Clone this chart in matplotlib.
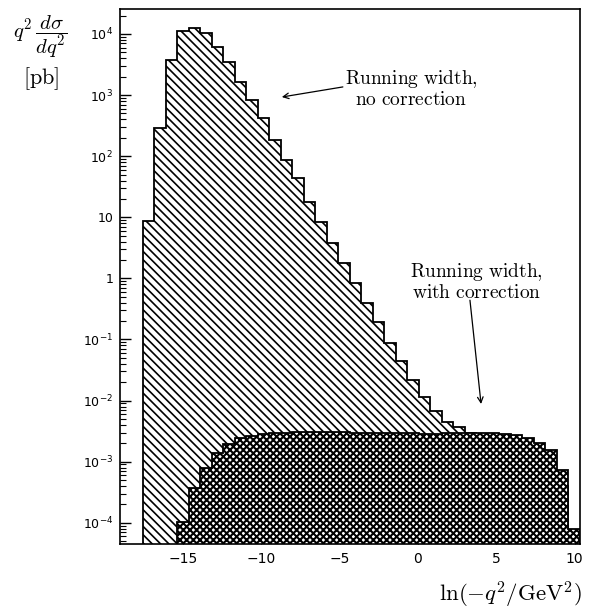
import numpy as np
import matplotlib
matplotlib.use("Agg")
import matplotlib.pyplot as plt
from matplotlib.ticker import FixedLocator, FuncFormatter, LogLocator, NullFormatter

# 40 bins in ln(-q^2/GeV^2)
x_lo, x_hi, n_bins = -19.04, 10.35, 40

# running width, no correction [pb]
no_corr = [0, 0, 8.8, 290, 3760, 11300, 12400, 10200, 6200, 3500,
           1660, 830, 420, 184, 87, 44, 18.0, 8.5, 3.8, 1.77,
           0.83, 0.40, 0.19, 0.087, 0.044, 0.0217, 0.0113, 0.0068, 0.0044, 0.00366,
           0.0029, 0.0025, 0.0022, 0.0019, 0.0016, 0.0013, 0.001, 0.0006, 0.0004, 0.00006]

# running width, with correction [pb]
with_corr = [0, 0, 0, 0, 0, 1.05e-4, 3.67e-4, 7.8e-4, 1.37e-3, 1.95e-3,
             2.42e-3, 2.63e-3, 2.84e-3, 2.95e-3, 3.0e-3, 3.05e-3, 3.05e-3, 3.1e-3, 3.1e-3, 3.05e-3,
             3.0e-3, 2.95e-3, 2.9e-3, 2.9e-3, 2.9e-3, 2.9e-3, 2.85e-3, 2.85e-3, 2.9e-3, 2.95e-3,
             3.0e-3, 2.95e-3, 2.9e-3, 2.8e-3, 2.7e-3, 2.45e-3, 2.05e-3, 1.55e-3, 7.3e-4, 8e-5]

x_ticks = [-15, -10, -5, 0, 5, 10]
y_ticks = [1e-4, 1e-3, 1e-2, 1e-1, 1, 10, 1e2, 1e3, 1e4]

plt.rcParams['hatch.linewidth'] = 1.2

edges = np.linspace(x_lo, x_hi, n_bins + 1)
base = 1e-7


def trim(vals):
    v = np.array(vals, dtype=float)
    i = int(np.argmax(v > 0))
    return v[i:], edges[i:]


fig = plt.figure(figsize=(5.92, 6.12), dpi=100)
ax = fig.add_axes([0.2027, 0.1111, 0.7770, 0.8742])
ax.set_yscale('log')

v1, e1 = trim(no_corr)
p1 = ax.stairs(v1, e1, baseline=base, fill=True, facecolor='white',
               edgecolor='black', hatch='\\' * 4, linewidth=1.3, zorder=1)

v2, e2 = trim(with_corr)
p2 = ax.stairs(v2, e2, baseline=base, fill=True, facecolor='white',
               edgecolor='black', hatch='x' * 5, linewidth=1.3, zorder=2)
if hasattr(p2, 'set_hatch_linewidth'):
    p1.set_hatch_linewidth(1.2)
    p2.set_hatch_linewidth(1.5)

ax.set_xlim(x_lo, x_hi)
ax.set_ylim(10 ** -4.347, 10 ** 4.409)

ax.xaxis.set_major_locator(FixedLocator(x_ticks))
ax.xaxis.set_major_formatter(FuncFormatter(lambda v, p: f"{int(v)}".replace('-', '\u2212')))
ax.yaxis.set_major_locator(FixedLocator(y_ticks))


def ylab(v, p):
    e = int(round(np.log10(v)))
    if e == 0:
        return "1"
    if e == 1:
        return "10"
    return r"$10^{%d}$" % e


ax.yaxis.set_major_formatter(FuncFormatter(ylab))
ax.yaxis.set_minor_locator(LogLocator(base=10, subs=np.arange(2, 10), numticks=20))
ax.yaxis.set_minor_formatter(NullFormatter())
ax.tick_params(axis='y', which='major', direction='in', length=8, width=1.0, labelsize=9, pad=5)
ax.tick_params(axis='y', which='minor', direction='in', length=4, width=0.8)
ax.tick_params(axis='x', which='major', direction='in', length=4, labelsize=10, pad=6)
for lab in ax.get_yticklabels() + ax.get_xticklabels():
    lab.set_math_fontfamily('dejavusans')
for s in ax.spines.values():
    s.set_linewidth(1.2)

# axis titles
fig.text(0.068, 0.94, r"$q^2\,\dfrac{d\sigma}{dq^2}$", math_fontfamily='cm',
         fontsize=15, ha='center', va='center')
fig.text(0.07, 0.872, r"$\mathrm{[pb]}$", math_fontfamily='cm',
         fontsize=16, ha='center', va='center')
fig.text(0.983, 0.028, r"$\ln(-q^2/\mathrm{GeV}^2)$", math_fontfamily='cm',
         fontsize=16.5, ha='right', va='center')

# annotations
ax.text(-0.45, 1280, r"$\mathrm{Running\ width,}$" + "\n" + r"$\mathrm{no\ correction}$",
        ha='center', va='center', fontsize=14, math_fontfamily='cm', linespacing=1.0)
ax.annotate("", xy=(-8.7, 930), xytext=(-4.8, 1360),
            arrowprops=dict(arrowstyle='->', color='black', lw=0.9,
                            shrinkA=0, shrinkB=0))
ax.text(3.75, 0.9, r"$\mathrm{Running\ width,}$" + "\n" + r"$\mathrm{with\ correction}$",
        ha='center', va='center', fontsize=14, math_fontfamily='cm', linespacing=1.0)
ax.annotate("", xy=(4.03, 0.0088), xytext=(3.32, 0.44),
            arrowprops=dict(arrowstyle='->', color='black', lw=0.9,
                            shrinkA=0, shrinkB=0))

fig.savefig("out.png", dpi=100)
